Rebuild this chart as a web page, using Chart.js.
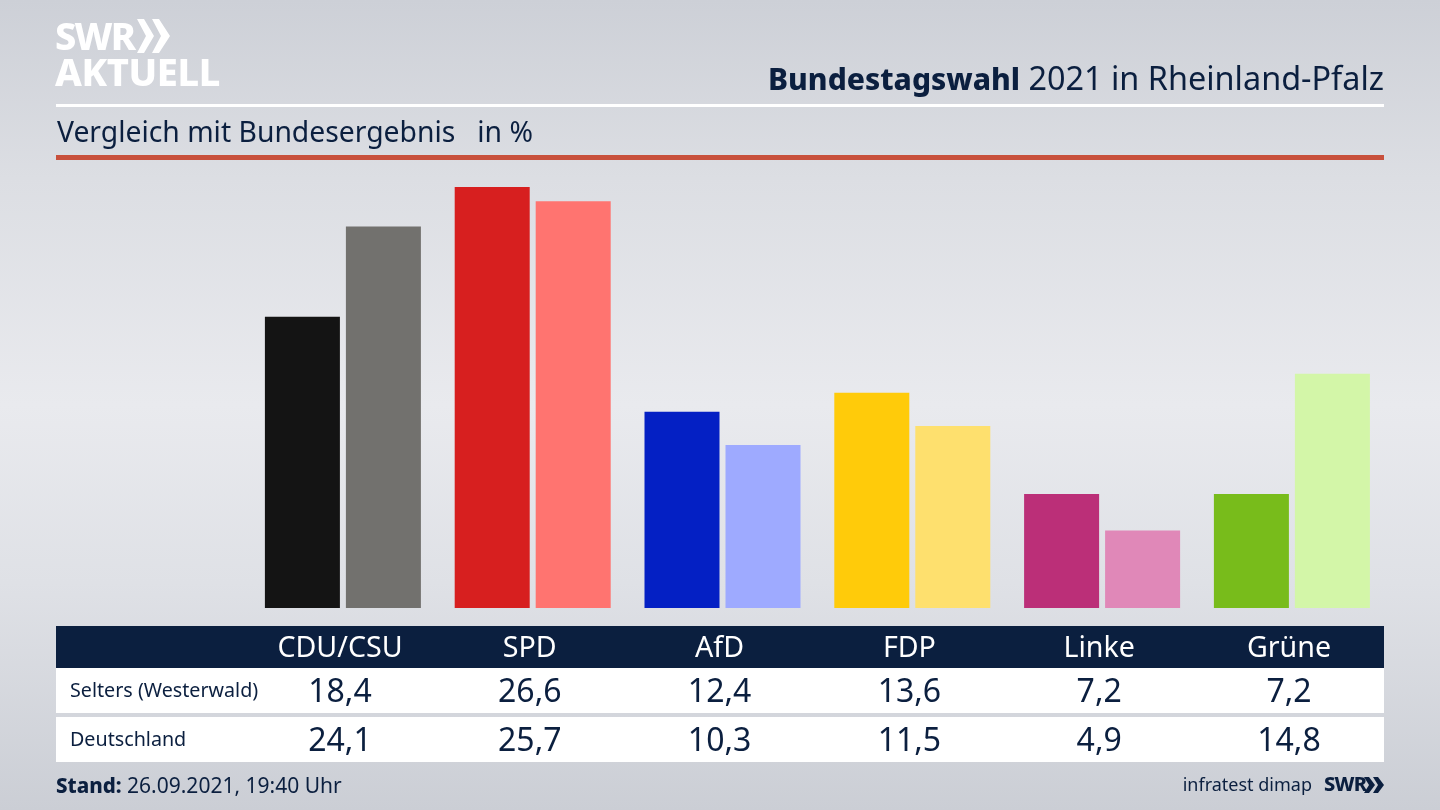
<!DOCTYPE html>
<html lang="de">
<head>
<meta charset="utf-8">
<title>Bundestagswahl 2021 in Rheinland-Pfalz</title>
<script src="https://cdn.jsdelivr.net/npm/chart.js@4"></script>
<style>
html, body { margin: 0; padding: 0; }
body {
    width: 1440px; height: 810px; overflow: hidden; position: relative;
    font-family: "Noto Sans", sans-serif; color: #0b1f3f;
    background: linear-gradient(180deg, #cdd0d7 0%, #dcdee3 22%, #e9eaee 50%, #dfe1e6 72%, #cbced5 100%);
}
#chart { position: absolute; left: 0; top: 0; }
.abs { position: absolute; white-space: nowrap; }
#logo1 { left: 55px; top: 10px; font-size: 38px; line-height: 50px; font-weight: 800; color: #fff; letter-spacing: -1.8px; }
#logo2 { left: 55px; top: 46px; font-size: 38px; line-height: 50px; font-weight: 800; color: #fff; letter-spacing: -0.4px; }
#logoArrows { left: 137px; top: 19px; }
#title { right: 56px; top: 54px; font-size: 32.4px; line-height: 46px; }
#title b { font-weight: 800; font-size: 30px; }
#rule1 { left: 56px; top: 104px; width: 1328px; height: 3px; background: #fff; }
#sub { left: 57px; top: 109px; font-size: 28.3px; line-height: 44px; }
#rule2 { left: 56px; top: 155px; width: 1328px; height: 5px; background: #c8503c; }
#head { left: 56px; top: 626px; width: 1328px; height: 42px; background: #0b1f3f; }
#row1 { left: 56px; top: 668px; width: 1328px; height: 45px; background: #fff; }
#row2 { left: 56px; top: 717px; width: 1328px; height: 45px; background: #fff; }
.lbl { left: 70px; font-size: 19.7px; line-height: 30px; }
.cell { width: 190px; text-align: center; }
.cat { top: 625px; font-size: 28.6px; line-height: 42px; color: #fff; }
.val { font-size: 32px; line-height: 46px; }
#stand { left: 56px; top: 769px; font-size: 21px; line-height: 32px; }
#stand b { font-weight: 800; font-size: 20.5px; }
#source { right: 128px; top: 768px; font-size: 18px; line-height: 32px; }
#swr { left: 1324px; top: 768px; font-size: 20px; line-height: 32px; font-weight: 800; letter-spacing: -0.8px; }
#swrArrows { left: 1364px; top: 777px; }
</style>
</head>
<body>
<canvas id="chart" width="1440" height="810"></canvas>

<div class="abs" id="logo1">SWR</div>
<svg class="abs" id="logoArrows" width="33" height="34" viewBox="0 0 33 34"><path d="M0 0h7l10 17-10 17H0l9-17zM15 0h7l11 17-11 17h-7l9-17z" fill="#fff"/></svg>
<div class="abs" id="logo2">AKTUELL</div>
<div class="abs" id="title"><b>Bundestagswahl</b> 2021 in Rheinland-Pfalz</div>
<div class="abs" id="rule1"></div>
<div class="abs" id="sub">Vergleich mit Bundesergebnis &nbsp; in %</div>
<div class="abs" id="rule2"></div>
<div class="abs" id="head"></div>
<div class="abs" id="row1"></div>
<div class="abs" id="row2"></div>
<div id="table"></div>
<div class="abs" id="stand"><b>Stand:</b> 26.09.2021, 19:40 Uhr</div>
<div class="abs" id="source">infratest dimap</div>
<div class="abs" id="swr">SWR</div>
<svg class="abs" id="swrArrows" width="20" height="16" viewBox="0 0 20 16"><path d="M0 0h5l6 8-6 8H0l5-8zM9 0h5l6 8-6 8H9l5-8z" fill="#0b1f3f"/></svg>

<script>
const parties = ['CDU/CSU', 'SPD', 'AfD', 'FDP', 'Linke', 'Grüne'];
const seltersLabel = 'Selters (Westerwald)';
const deutschlandLabel = 'Deutschland';
const seltersValues = [18.4, 26.6, 12.4, 13.6, 7.2, 7.2];
const deutschlandValues = [24.1, 25.7, 10.3, 11.5, 4.9, 14.8];
const seltersColors = ['#141414', '#d71f1f', '#0420c4', '#ffcb0a', '#bb2f78', '#78bc1b'];
const deutschlandColors = ['#72716e', '#ff7470', '#9eaaff', '#fee06e', '#e088b8', '#d3f6a8'];

const formatValue = v => v.toFixed(1).replace('.', ',');

function addCell(text, className, left, top) {
    const el = document.createElement('div');
    el.className = 'abs ' + className;
    el.textContent = text;
    el.style.left = left + 'px';
    if (top !== null) el.style.top = top + 'px';
    document.getElementById('table').appendChild(el);
}

addCell(seltersLabel, 'lbl', 70, 675);
addCell(deutschlandLabel, 'lbl', 70, 724);
parties.forEach((party, i) => {
    const left = 245 + i * 189.8;
    addCell(party, 'cell cat', left, null);
    addCell(formatValue(seltersValues[i]), 'cell val', left, 667);
    addCell(formatValue(deutschlandValues[i]), 'cell val', left, 716);
});

new Chart(document.getElementById('chart'), {
    type: 'bar',
    data: {
        labels: parties,
        datasets: [
            { label: seltersLabel, data: seltersValues, backgroundColor: seltersColors },
            { label: deutschlandLabel, data: deutschlandValues, backgroundColor: deutschlandColors }
        ]
    },
    options: {
        responsive: false,
        animation: false,
        categoryPercentage: 0.8535,
        barPercentage: 0.926,
        layout: { padding: { left: 248, right: 53.2, top: 160, bottom: 202 } },
        plugins: { legend: { display: false }, tooltip: { enabled: false } },
        scales: {
            x: { display: false },
            y: { display: false, min: 0, max: 28.3 }
        }
    }
});
</script>
</body>
</html>
